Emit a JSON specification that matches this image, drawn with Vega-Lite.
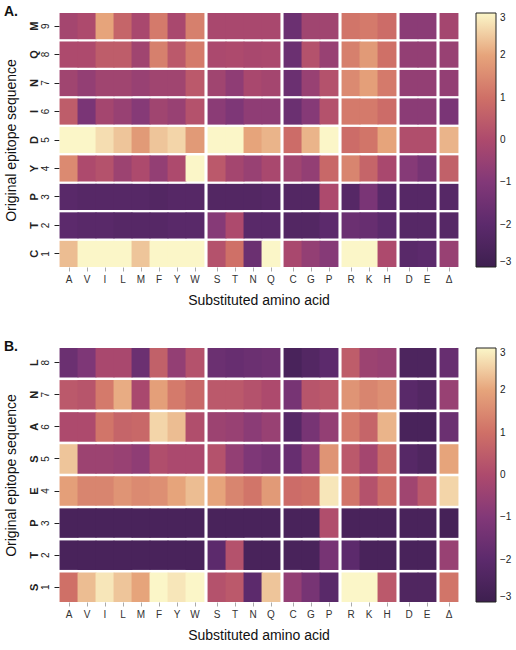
{
  "$schema": "https://vega.github.io/schema/vega-lite/v6.json",
  "padding": {"left": 3, "top": 5, "right": 2, "bottom": 5},
  "config": {
    "font": "Liberation Sans",
    "view": {"stroke": null},
    "axis": {"labelColor": "#222", "titleColor": "#111", "titleFontWeight": "normal"},
    "title": {"color": "#111"}
  },
  "datasets": {
    "grp": [
      {"a": "A", "g": 1}, {"a": "V", "g": 1}, {"a": "I", "g": 1}, {"a": "L", "g": 1}, {"a": "M", "g": 1}, {"a": "F", "g": 1}, {"a": "Y", "g": 1}, {"a": "W", "g": 1},
      {"a": "S", "g": 2}, {"a": "T", "g": 2}, {"a": "N", "g": 2}, {"a": "Q", "g": 2},
      {"a": "C", "g": 3}, {"a": "G", "g": 3}, {"a": "P", "g": 3},
      {"a": "R", "g": 4}, {"a": "K", "g": 4}, {"a": "H", "g": 4},
      {"a": "D", "g": 5}, {"a": "E", "g": 5},
      {"a": "Δ", "g": 6}
    ],
    "pa": [
      {"r":"9 M","a":"A","v":-0.2},{"r":"9 M","a":"V","v":0},{"r":"9 M","a":"I","v":2},{"r":"9 M","a":"L","v":0.7},{"r":"9 M","a":"M","v":-0.1},{"r":"9 M","a":"F","v":1.2},{"r":"9 M","a":"Y","v":-0.1},{"r":"9 M","a":"W","v":1.3},{"r":"9 M","a":"S","v":-0.1},{"r":"9 M","a":"T","v":-0.1},{"r":"9 M","a":"N","v":-0.1},{"r":"9 M","a":"Q","v":-0.1},{"r":"9 M","a":"C","v":-1.6},{"r":"9 M","a":"G","v":-0.3},{"r":"9 M","a":"P","v":-0.3},{"r":"9 M","a":"R","v":1.1},{"r":"9 M","a":"K","v":1.2},{"r":"9 M","a":"H","v":0.9},{"r":"9 M","a":"D","v":-0.8},{"r":"9 M","a":"E","v":-0.8},{"r":"9 M","a":"Δ","v":-0.2},
      {"r":"8 Q","a":"A","v":0},{"r":"8 Q","a":"V","v":0},{"r":"8 Q","a":"I","v":0.5},{"r":"8 Q","a":"L","v":0.5},{"r":"8 Q","a":"M","v":-0.3},{"r":"8 Q","a":"F","v":1.3},{"r":"8 Q","a":"Y","v":0.4},{"r":"8 Q","a":"W","v":1.2},{"r":"8 Q","a":"S","v":-0.05},{"r":"8 Q","a":"T","v":0},{"r":"8 Q","a":"N","v":-0.1},{"r":"8 Q","a":"Q","v":-0.05},{"r":"8 Q","a":"C","v":-1.6},{"r":"8 Q","a":"G","v":0.2},{"r":"8 Q","a":"P","v":-0.5},{"r":"8 Q","a":"R","v":1.3},{"r":"8 Q","a":"K","v":1.8},{"r":"8 Q","a":"H","v":1.0},{"r":"8 Q","a":"D","v":-0.6},{"r":"8 Q","a":"E","v":-0.6},{"r":"8 Q","a":"Δ","v":-0.5},
      {"r":"7 N","a":"A","v":-0.3},{"r":"7 N","a":"V","v":-0.6},{"r":"7 N","a":"I","v":-0.3},{"r":"7 N","a":"L","v":-0.3},{"r":"7 N","a":"M","v":-0.5},{"r":"7 N","a":"F","v":-0.3},{"r":"7 N","a":"Y","v":-0.3},{"r":"7 N","a":"W","v":0.4},{"r":"7 N","a":"S","v":-0.3},{"r":"7 N","a":"T","v":-0.7},{"r":"7 N","a":"N","v":-0.1},{"r":"7 N","a":"Q","v":-0.2},{"r":"7 N","a":"C","v":-1.6},{"r":"7 N","a":"G","v":-0.5},{"r":"7 N","a":"P","v":0.2},{"r":"7 N","a":"R","v":1.5},{"r":"7 N","a":"K","v":1.9},{"r":"7 N","a":"H","v":1.2},{"r":"7 N","a":"D","v":-0.6},{"r":"7 N","a":"E","v":-0.6},{"r":"7 N","a":"Δ","v":-0.6},
      {"r":"6 I","a":"A","v":0.5},{"r":"6 I","a":"V","v":-1.2},{"r":"6 I","a":"I","v":-0.2},{"r":"6 I","a":"L","v":-0.5},{"r":"6 I","a":"M","v":-0.9},{"r":"6 I","a":"F","v":-0.3},{"r":"6 I","a":"Y","v":-0.5},{"r":"6 I","a":"W","v":0.2},{"r":"6 I","a":"S","v":-0.8},{"r":"6 I","a":"T","v":-1.1},{"r":"6 I","a":"N","v":-0.7},{"r":"6 I","a":"Q","v":-0.7},{"r":"6 I","a":"C","v":-1.6},{"r":"6 I","a":"G","v":-0.9},{"r":"6 I","a":"P","v":0.2},{"r":"6 I","a":"R","v":1.2},{"r":"6 I","a":"K","v":1.2},{"r":"6 I","a":"H","v":0.9},{"r":"6 I","a":"D","v":-0.8},{"r":"6 I","a":"E","v":-0.8},{"r":"6 I","a":"Δ","v":-1.2},
      {"r":"5 D","a":"A","v":3},{"r":"5 D","a":"V","v":3},{"r":"5 D","a":"I","v":2.7},{"r":"5 D","a":"L","v":2.4},{"r":"5 D","a":"M","v":1.8},{"r":"5 D","a":"F","v":2.4},{"r":"5 D","a":"Y","v":2.6},{"r":"5 D","a":"W","v":1.8},{"r":"5 D","a":"S","v":3},{"r":"5 D","a":"T","v":3},{"r":"5 D","a":"N","v":2},{"r":"5 D","a":"Q","v":2.2},{"r":"5 D","a":"C","v":0.9},{"r":"5 D","a":"G","v":2.2},{"r":"5 D","a":"P","v":3},{"r":"5 D","a":"R","v":0.9},{"r":"5 D","a":"K","v":1.1},{"r":"5 D","a":"H","v":2},{"r":"5 D","a":"D","v":0.1},{"r":"5 D","a":"E","v":0.1},{"r":"5 D","a":"Δ","v":2.2},
      {"r":"4 Y","a":"A","v":1.5},{"r":"4 Y","a":"V","v":0},{"r":"4 Y","a":"I","v":0.2},{"r":"4 Y","a":"L","v":-0.4},{"r":"4 Y","a":"M","v":0},{"r":"4 Y","a":"F","v":-0.6},{"r":"4 Y","a":"Y","v":0},{"r":"4 Y","a":"W","v":3},{"r":"4 Y","a":"S","v":0.4},{"r":"4 Y","a":"T","v":-0.2},{"r":"4 Y","a":"N","v":-0.5},{"r":"4 Y","a":"Q","v":-0.1},{"r":"4 Y","a":"C","v":-0.3},{"r":"4 Y","a":"G","v":-0.6},{"r":"4 Y","a":"P","v":0.8},{"r":"4 Y","a":"R","v":1.4},{"r":"4 Y","a":"K","v":0.7},{"r":"4 Y","a":"H","v":-0.1},{"r":"4 Y","a":"D","v":-0.9},{"r":"4 Y","a":"E","v":-1.3},{"r":"4 Y","a":"Δ","v":0.6},
      {"r":"3 P","a":"A","v":-2.1},{"r":"3 P","a":"V","v":-2.2},{"r":"3 P","a":"I","v":-2.2},{"r":"3 P","a":"L","v":-2.2},{"r":"3 P","a":"M","v":-2.2},{"r":"3 P","a":"F","v":-2.3},{"r":"3 P","a":"Y","v":-2.2},{"r":"3 P","a":"W","v":-2.2},{"r":"3 P","a":"S","v":-2.3},{"r":"3 P","a":"T","v":-2.3},{"r":"3 P","a":"N","v":-2.3},{"r":"3 P","a":"Q","v":-2.2},{"r":"3 P","a":"C","v":-2.3},{"r":"3 P","a":"G","v":-2.3},{"r":"3 P","a":"P","v":0},{"r":"3 P","a":"R","v":-2.2},{"r":"3 P","a":"K","v":-1.2},{"r":"3 P","a":"H","v":-2.1},{"r":"3 P","a":"D","v":-2.2},{"r":"3 P","a":"E","v":-2.2},{"r":"3 P","a":"Δ","v":-2.2},
      {"r":"2 T","a":"A","v":-2.0},{"r":"2 T","a":"V","v":-2.1},{"r":"2 T","a":"I","v":-2.1},{"r":"2 T","a":"L","v":-2.2},{"r":"2 T","a":"M","v":-2.2},{"r":"2 T","a":"F","v":-2.2},{"r":"2 T","a":"Y","v":-2.1},{"r":"2 T","a":"W","v":-2.1},{"r":"2 T","a":"S","v":-0.9},{"r":"2 T","a":"T","v":0},{"r":"2 T","a":"N","v":-2.1},{"r":"2 T","a":"Q","v":-2.1},{"r":"2 T","a":"C","v":-2.3},{"r":"2 T","a":"G","v":-2.3},{"r":"2 T","a":"P","v":-2.0},{"r":"2 T","a":"R","v":-1.6},{"r":"2 T","a":"K","v":-1.7},{"r":"2 T","a":"H","v":-2.0},{"r":"2 T","a":"D","v":-2.2},{"r":"2 T","a":"E","v":-2.2},{"r":"2 T","a":"Δ","v":-2.2},
      {"r":"1 C","a":"A","v":2.3},{"r":"1 C","a":"V","v":3},{"r":"1 C","a":"I","v":3},{"r":"1 C","a":"L","v":3},{"r":"1 C","a":"M","v":2.4},{"r":"1 C","a":"F","v":3},{"r":"1 C","a":"Y","v":3},{"r":"1 C","a":"W","v":3},{"r":"1 C","a":"S","v":0.2},{"r":"1 C","a":"T","v":1},{"r":"1 C","a":"N","v":-1.6},{"r":"1 C","a":"Q","v":3},{"r":"1 C","a":"C","v":-0.1},{"r":"1 C","a":"G","v":-0.6},{"r":"1 C","a":"P","v":-0.9},{"r":"1 C","a":"R","v":3},{"r":"1 C","a":"K","v":3},{"r":"1 C","a":"H","v":0},{"r":"1 C","a":"D","v":-2.1},{"r":"1 C","a":"E","v":-2.0},{"r":"1 C","a":"Δ","v":-0.5}
    ],
    "pb": [
      {"r":"8 L","a":"A","v":-1.6},{"r":"8 L","a":"V","v":-1.1},{"r":"8 L","a":"I","v":-0.1},{"r":"8 L","a":"L","v":-0.1},{"r":"8 L","a":"M","v":-1.6},{"r":"8 L","a":"F","v":0.6},{"r":"8 L","a":"Y","v":-0.6},{"r":"8 L","a":"W","v":0.2},{"r":"8 L","a":"S","v":-1.6},{"r":"8 L","a":"T","v":-1.7},{"r":"8 L","a":"N","v":-1.6},{"r":"8 L","a":"Q","v":-1.5},{"r":"8 L","a":"C","v":-2.6},{"r":"8 L","a":"G","v":-2.3},{"r":"8 L","a":"P","v":-2.0},{"r":"8 L","a":"R","v":0.5},{"r":"8 L","a":"K","v":-0.4},{"r":"8 L","a":"H","v":-0.5},{"r":"8 L","a":"D","v":-2.5},{"r":"8 L","a":"E","v":-2.5},{"r":"8 L","a":"Δ","v":-1.7},
      {"r":"7 N","a":"A","v":0.4},{"r":"7 N","a":"V","v":0.3},{"r":"7 N","a":"I","v":1.2},{"r":"7 N","a":"L","v":2.1},{"r":"7 N","a":"M","v":-0.1},{"r":"7 N","a":"F","v":1.9},{"r":"7 N","a":"Y","v":1.2},{"r":"7 N","a":"W","v":0.8},{"r":"7 N","a":"S","v":0.4},{"r":"7 N","a":"T","v":0.4},{"r":"7 N","a":"N","v":0.2},{"r":"7 N","a":"Q","v":0},{"r":"7 N","a":"C","v":-1.3},{"r":"7 N","a":"G","v":0.3},{"r":"7 N","a":"P","v":0.4},{"r":"7 N","a":"R","v":1.7},{"r":"7 N","a":"K","v":1.4},{"r":"7 N","a":"H","v":1.6},{"r":"7 N","a":"D","v":-2.1},{"r":"7 N","a":"E","v":-2.3},{"r":"7 N","a":"Δ","v":-0.5},
      {"r":"6 A","a":"A","v":0},{"r":"6 A","a":"V","v":0},{"r":"6 A","a":"I","v":1.1},{"r":"6 A","a":"L","v":0.7},{"r":"6 A","a":"M","v":0.8},{"r":"6 A","a":"F","v":2.6},{"r":"6 A","a":"Y","v":2.3},{"r":"6 A","a":"W","v":0.1},{"r":"6 A","a":"S","v":-0.4},{"r":"6 A","a":"T","v":-0.5},{"r":"6 A","a":"N","v":-0.8},{"r":"6 A","a":"Q","v":-0.5},{"r":"6 A","a":"C","v":-2.2},{"r":"6 A","a":"G","v":-1.3},{"r":"6 A","a":"P","v":-0.6},{"r":"6 A","a":"R","v":1.2},{"r":"6 A","a":"K","v":0.7},{"r":"6 A","a":"H","v":2.2},{"r":"6 A","a":"D","v":-2.6},{"r":"6 A","a":"E","v":-2.6},{"r":"6 A","a":"Δ","v":-1.6},
      {"r":"5 S","a":"A","v":2.4},{"r":"5 S","a":"V","v":-0.4},{"r":"5 S","a":"I","v":-0.4},{"r":"5 S","a":"L","v":-0.5},{"r":"5 S","a":"M","v":-0.7},{"r":"5 S","a":"F","v":0.1},{"r":"5 S","a":"Y","v":-0.05},{"r":"5 S","a":"W","v":-0.05},{"r":"5 S","a":"S","v":0.2},{"r":"5 S","a":"T","v":-0.6},{"r":"5 S","a":"N","v":-1.1},{"r":"5 S","a":"Q","v":-1.3},{"r":"5 S","a":"C","v":-1.7},{"r":"5 S","a":"G","v":-0.7},{"r":"5 S","a":"P","v":1.7},{"r":"5 S","a":"R","v":0.4},{"r":"5 S","a":"K","v":-0.2},{"r":"5 S","a":"H","v":0.8},{"r":"5 S","a":"D","v":-2.2},{"r":"5 S","a":"E","v":-2.4},{"r":"5 S","a":"Δ","v":2.0},
      {"r":"4 E","a":"A","v":1.9},{"r":"4 E","a":"V","v":1.4},{"r":"4 E","a":"I","v":1.4},{"r":"4 E","a":"L","v":1.7},{"r":"4 E","a":"M","v":1.5},{"r":"4 E","a":"F","v":1.6},{"r":"4 E","a":"Y","v":2.0},{"r":"4 E","a":"W","v":2.3},{"r":"4 E","a":"S","v":2.0},{"r":"4 E","a":"T","v":1.4},{"r":"4 E","a":"N","v":1.1},{"r":"4 E","a":"Q","v":1.8},{"r":"4 E","a":"C","v":0.9},{"r":"4 E","a":"G","v":1.0},{"r":"4 E","a":"P","v":2.8},{"r":"4 E","a":"R","v":1.1},{"r":"4 E","a":"K","v":0.2},{"r":"4 E","a":"H","v":0.9},{"r":"4 E","a":"D","v":-0.3},{"r":"4 E","a":"E","v":0.4},{"r":"4 E","a":"Δ","v":2.6},
      {"r":"3 P","a":"A","v":-2.6},{"r":"3 P","a":"V","v":-2.6},{"r":"3 P","a":"I","v":-2.6},{"r":"3 P","a":"L","v":-2.6},{"r":"3 P","a":"M","v":-2.6},{"r":"3 P","a":"F","v":-2.6},{"r":"3 P","a":"Y","v":-2.6},{"r":"3 P","a":"W","v":-2.6},{"r":"3 P","a":"S","v":-2.6},{"r":"3 P","a":"T","v":-2.6},{"r":"3 P","a":"N","v":-2.6},{"r":"3 P","a":"Q","v":-2.6},{"r":"3 P","a":"C","v":-2.6},{"r":"3 P","a":"G","v":-2.6},{"r":"3 P","a":"P","v":0.1},{"r":"3 P","a":"R","v":-2.6},{"r":"3 P","a":"K","v":-2.6},{"r":"3 P","a":"H","v":-2.6},{"r":"3 P","a":"D","v":-2.6},{"r":"3 P","a":"E","v":-2.6},{"r":"3 P","a":"Δ","v":-2.7},
      {"r":"2 T","a":"A","v":-2.6},{"r":"2 T","a":"V","v":-2.6},{"r":"2 T","a":"I","v":-2.6},{"r":"2 T","a":"L","v":-2.6},{"r":"2 T","a":"M","v":-2.6},{"r":"2 T","a":"F","v":-2.6},{"r":"2 T","a":"Y","v":-2.6},{"r":"2 T","a":"W","v":-2.6},{"r":"2 T","a":"S","v":-2.0},{"r":"2 T","a":"T","v":0.2},{"r":"2 T","a":"N","v":-2.6},{"r":"2 T","a":"Q","v":-2.6},{"r":"2 T","a":"C","v":-2.6},{"r":"2 T","a":"G","v":-2.6},{"r":"2 T","a":"P","v":-1.3},{"r":"2 T","a":"R","v":-2.0},{"r":"2 T","a":"K","v":-2.6},{"r":"2 T","a":"H","v":-2.6},{"r":"2 T","a":"D","v":-2.6},{"r":"2 T","a":"E","v":-2.6},{"r":"2 T","a":"Δ","v":-0.5},
      {"r":"1 S","a":"A","v":1.0},{"r":"1 S","a":"V","v":2.3},{"r":"1 S","a":"I","v":2.8},{"r":"1 S","a":"L","v":2.4},{"r":"1 S","a":"M","v":2.0},{"r":"1 S","a":"F","v":3},{"r":"1 S","a":"Y","v":2.8},{"r":"1 S","a":"W","v":3},{"r":"1 S","a":"S","v":0.2},{"r":"1 S","a":"T","v":0.4},{"r":"1 S","a":"N","v":-2.0},{"r":"1 S","a":"Q","v":2.4},{"r":"1 S","a":"C","v":-0.6},{"r":"1 S","a":"G","v":-1.3},{"r":"1 S","a":"P","v":-2.1},{"r":"1 S","a":"R","v":3},{"r":"1 S","a":"K","v":3},{"r":"1 S","a":"H","v":0.4},{"r":"1 S","a":"D","v":-2.4},{"r":"1 S","a":"E","v":-2.4},{"r":"1 S","a":"Δ","v":1.1}
    ]
  },
  "vconcat": [
    {
      "data": {"name": "pa"},
      "transform": [{"lookup": "a", "from": {"data": {"name": "grp"}, "key": "a", "fields": ["g"]}}],
      "title": {"text": "A.", "anchor": "start", "frame": "bounds", "fontSize": 14, "fontWeight": "bold", "offset": -6},
      "facet": {"column": {"field": "g", "type": "ordinal", "title": "Substituted amino acid", "header": {"labels": false, "titleOrient": "bottom", "titleFontSize": 14, "titleFontWeight": "normal", "titlePadding": 0, "titleColor": "#111"}}},
      "spacing": {"column": 2},
      "spec": {
        "width": {"step": 18},
        "height": 254,
        "encoding": {
          "x": {"field": "a", "type": "nominal", "sort": ["A","V","I","L","M","F","Y","W","S","T","N","Q","C","G","P","R","K","H","D","E","Δ"], "scale": {"paddingInner": 0, "paddingOuter": 0}, "axis": {"title": null, "labelAngle": 0, "domain": false, "tickSize": 4, "tickColor": "#aaa", "labelFontSize": 10, "labelPadding": 3, "labelColor": "#333"}}
        },
        "layer": [
          {
            "mark": {"type": "rect", "width": {"band": 1.05}},
            "encoding": {
              "y": {"field": "r", "type": "ordinal", "sort": "descending", "scale": {"paddingInner": 0.08, "paddingOuter": 0}, "axis": {"orient": "left", "title": null, "labelExpr": "split(datum.value, ' ')[0]", "labelAngle": -90, "labelAlign": "center", "labelBaseline": "bottom", "tickSize": 5, "tickColor": "#222", "domain": false, "labelPadding": 4, "labelFontSize": 10}},
              "color": {"field": "v", "type": "quantitative", "scale": {"domain": [-3,-2,-1,0,1,2,3], "range": ["#3d1f4f","#5c2a6c","#823878","#ad4a6d","#cf7067","#e6a47b","#fbf6c8"], "clamp": true, "interpolate": "rgb"}, "legend": {"title": null, "values": [3,2,1,0,-1,-2,-3], "gradientLength": 254, "gradientThickness": 20, "gradientStrokeColor": "#222", "gradientStrokeWidth": 1, "labelFontSize": 10, "labelColor": "#222", "offset": 17, "labelOffset": 4}}
            }
          },
          {
            "mark": {"type": "rect", "opacity": 0},
            "encoding": {
              "y": {"field": "r", "type": "ordinal", "sort": "descending", "axis": {"orient": "left", "title": "Original epitope sequence", "titleFontSize": 14, "titlePadding": 10, "labelExpr": "split(datum.value, ' ')[1]", "labelAngle": -90, "labelAlign": "center", "labelBaseline": "bottom", "ticks": false, "domain": false, "labelPadding": 20, "labelFontSize": 11, "labelFontWeight": "bold"}}
            }
          }
        ],
        "resolve": {"axis": {"y": "independent"}}
      },
      "resolve": {"scale": {"x": "independent"}}
    },
    {
      "data": {"name": "pb"},
      "transform": [{"lookup": "a", "from": {"data": {"name": "grp"}, "key": "a", "fields": ["g"]}}],
      "title": {"text": "B.", "anchor": "start", "frame": "bounds", "fontSize": 14, "fontWeight": "bold", "offset": -6},
      "facet": {"column": {"field": "g", "type": "ordinal", "title": "Substituted amino acid", "header": {"labels": false, "titleOrient": "bottom", "titleFontSize": 14, "titleFontWeight": "normal", "titlePadding": 0, "titleColor": "#111"}}},
      "spacing": {"column": 2},
      "spec": {
        "width": {"step": 18},
        "height": 254,
        "encoding": {
          "x": {"field": "a", "type": "nominal", "sort": ["A","V","I","L","M","F","Y","W","S","T","N","Q","C","G","P","R","K","H","D","E","Δ"], "scale": {"paddingInner": 0, "paddingOuter": 0}, "axis": {"title": null, "labelAngle": 0, "domain": false, "tickSize": 4, "tickColor": "#aaa", "labelFontSize": 10, "labelPadding": 3, "labelColor": "#333"}}
        },
        "layer": [
          {
            "mark": {"type": "rect", "width": {"band": 1.05}},
            "encoding": {
              "y": {"field": "r", "type": "ordinal", "sort": "descending", "scale": {"paddingInner": 0.08, "paddingOuter": 0}, "axis": {"orient": "left", "title": null, "labelExpr": "split(datum.value, ' ')[0]", "labelAngle": -90, "labelAlign": "center", "labelBaseline": "bottom", "tickSize": 5, "tickColor": "#222", "domain": false, "labelPadding": 4, "labelFontSize": 10}},
              "color": {"field": "v", "type": "quantitative", "scale": {"domain": [-3,-2,-1,0,1,2,3], "range": ["#3d1f4f","#5c2a6c","#823878","#ad4a6d","#cf7067","#e6a47b","#fbf6c8"], "clamp": true, "interpolate": "rgb"}, "legend": {"title": null, "values": [3,2,1,0,-1,-2,-3], "gradientLength": 254, "gradientThickness": 20, "gradientStrokeColor": "#222", "gradientStrokeWidth": 1, "labelFontSize": 10, "labelColor": "#222", "offset": 17, "labelOffset": 4}}
            }
          },
          {
            "mark": {"type": "rect", "opacity": 0},
            "encoding": {
              "y": {"field": "r", "type": "ordinal", "sort": "descending", "axis": {"orient": "left", "title": "Original epitope sequence", "titleFontSize": 14, "titlePadding": 10, "labelExpr": "split(datum.value, ' ')[1]", "labelAngle": -90, "labelAlign": "center", "labelBaseline": "bottom", "ticks": false, "domain": false, "labelPadding": 20, "labelFontSize": 11, "labelFontWeight": "bold"}}
            }
          }
        ],
        "resolve": {"axis": {"y": "independent"}}
      },
      "resolve": {"scale": {"x": "independent"}}
    }
  ],
  "spacing": 32,
  "resolve": {"scale": {"color": "independent"}}
}
